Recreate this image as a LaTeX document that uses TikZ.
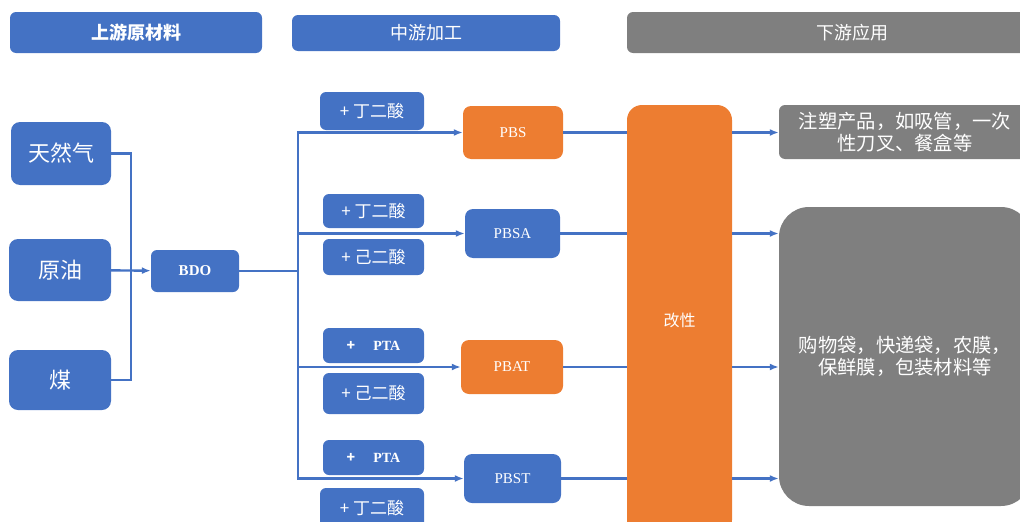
\documentclass[tikz,border=0pt]{standalone}
\usepackage{fontspec}
\setmainfont{Liberation Serif}
\newfontfamily\cjk{Noto Sans CJK SC}
\usepackage{tikz}
\usetikzlibrary{arrows.meta,positioning}

\definecolor{cblue}{HTML}{4472C4}
\definecolor{corange}{HTML}{ED7D31}
\definecolor{cgray}{HTML}{7F7F7F}

\begin{document}
\begin{tikzpicture}[x=1pt, y=-1pt, >={Latex[length=9pt,width=7pt]},
      base/.style={rounded corners=6pt, text=white, align=center, inner
      sep=0pt}, hdr/.style={base, fill=cblue, font=\cjk\fontsize{18}{20}\selectfont},
      srcbox/.style={base, fill=cblue, rounded corners=9pt,
      font=\cjk\fontsize{22}{24}\selectfont}, addbox/.style={base,
      fill=cblue, minimum width=101pt, font=\cjk\fontsize{17}{19}\selectfont},
      prod/.style={base, rounded corners=8pt, font=\fontsize{15}{17}\selectfont},
      usebox/.style={base, fill=cgray, font=\cjk\fontsize{19.3}{22}\selectfont},
      link/.style={draw=cblue, line width=2.4pt}, arrow/.style={link, ->,
      cblue} ]

    \clip (0,0) rectangle (1020,522);

    % Headers
    \node[hdr, minimum width=252pt, minimum height=41pt] (h1) at (136,32.5)
    {\bfseries 上游原材料}; \node[hdr, minimum width=268pt, minimum height=36pt]
    (h2) at (426,33) {中游加工}; \node[hdr, fill=cgray, minimum width=450pt,
    minimum height=41pt] (h3) at (852,32.5) {下游应用};

    % Sources
    \node[srcbox, minimum width=100pt, minimum height=63pt] (gas) at (61,153.5)
    {天然气}; \node[srcbox, minimum width=102pt, minimum height=62pt] (oil) at
    (60,270) {原油}; \node[srcbox, minimum width=102pt, minimum height=60pt]
    (coal) at (60,380) {煤}; \node[base, fill=cblue, minimum width=88pt,
    minimum height=42pt, font=\bfseries\fontsize{15}{17}\selectfont] (bdo) at
    (195,271) {BDO};

    \coordinate (j1) at (131,270); \coordinate (j2) at (298,271);

    \draw[link] (gas.east) -| (j1); \draw[link] (coal.east) -| (j1);
    \draw[arrow] (oil) -- (bdo); \draw[link] (bdo) -- (j2);

    % Additives
    \node[addbox, minimum width=104pt, minimum height=38pt] (a1) at (372,111)
    {+ 丁二酸}; \node[addbox, minimum height=34pt] (a2) at (373.5,211) {+
    丁二酸}; \node[addbox, minimum height=36pt] (a3) at (373.5,257) {+ 己二酸};
    \node[addbox, minimum height=35pt] (a4) at (373.5,345.5)
    {\fontsize{14}{16}\selectfont\bfseries +\hspace{1.3em}\rmfamily PTA};
    \node[addbox, minimum height=41pt] (a5) at (373.5,393.5) {+ 己二酸};
    \node[addbox, minimum height=35pt] (a6) at (373.5,457.5)
    {\fontsize{14}{16}\selectfont\bfseries +\hspace{1.3em}\rmfamily PTA};
    \node[addbox, minimum width=104pt, minimum height=40pt] (a7) at (372,508)
    {+ 丁二酸};

    % Products
    \node[prod, fill=corange, minimum width=100pt, minimum height=53pt] (pbs)
    at (513,132.5) {PBS}; \node[prod, fill=cblue, minimum width=95pt, minimum
    height=49pt] (pbsa) at (512.5,233.5) {PBSA}; \node[prod, fill=corange,
    minimum width=102pt, minimum height=54pt] (pbat) at (512,367) {PBAT};
    \node[prod, fill=cblue, minimum width=97pt, minimum height=49pt] (pbst) at
    (512.5,478.5) {PBST};

    \draw[arrow] (j2) |- (pbs.west); \draw[arrow] (j2) |- (pbsa.west);
    \draw[arrow] (j2) |- (pbat.west); \draw[arrow] (j2) |- (pbst.west);

    % Modification
    \node[base, fill=corange, rounded corners=15pt, minimum width=105pt,
    minimum height=430pt, font=\cjk\fontsize{16}{18}\selectfont] (mod) at
    (679.5,320) {改性};

    % Applications
    \node[usebox, minimum width=252pt, minimum height=54pt] (u1) at (905,132)
    {注塑产品，如吸管，一次\\性刀叉、餐盒等}; \node[usebox, rounded corners=30pt,
    minimum width=252pt, minimum height=299pt] (u2) at (905,356.5)
    {购物袋，快递袋，农膜，\\保鲜膜，包装材料等};

    \draw[link] (pbs.east) -- (pbs.east -| mod.west); \draw[link] (pbsa.east)
    -- (pbsa.east -| mod.west); \draw[link] (pbat.east) -- (pbat.east -|
    mod.west); \draw[link] (pbst.east) -- (pbst.east -| mod.west);

    \draw[arrow] (mod.east |- pbs.east) -- (u1.west |- pbs.east);
    \draw[arrow] (mod.east |- pbsa.east) -- (u2.west |- pbsa.east);
    \draw[arrow] (mod.east |- pbat.east) -- (u2.west |- pbat.east);
    \draw[arrow] (mod.east |- pbst.east) -- (u2.west |- pbst.east);

  \end{tikzpicture}
\end{document}
